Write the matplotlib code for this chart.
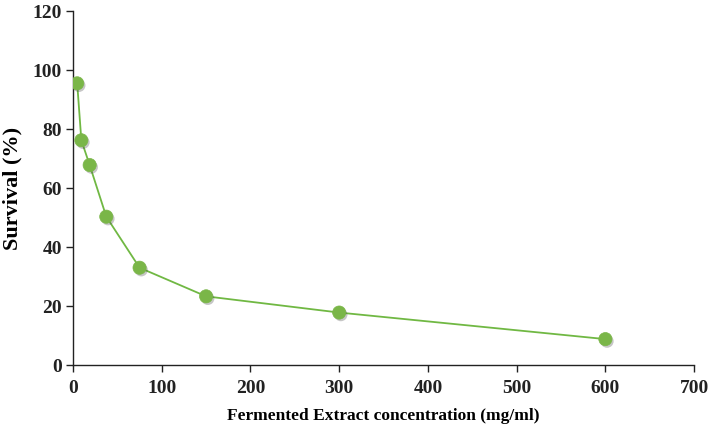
import matplotlib
matplotlib.use("Agg")
import matplotlib.pyplot as plt
import matplotlib.patheffects as pe

conc = [4.69, 9.375, 18.75, 37.5, 75, 150, 300, 600]
survival = [95.5, 76.2, 67.8, 50.3, 33.0, 23.3, 17.8, 8.8]
xticks = [0, 100, 200, 300, 400, 500, 600, 700]
yticks = [0, 20, 40, 60, 80, 100, 120]

plt.rcParams['font.family'] = ['Liberation Serif', 'DejaVu Serif']

fig = plt.figure(figsize=(7.09, 4.25), dpi=100)
ax = fig.add_axes([0.103, 0.141, 0.876, 0.833])

ax.plot(conc, survival, color='#70b843', lw=1.3, zorder=2)
ax.plot(conc, survival, ls='none', marker='o', ms=9.5, mfc='#7ab648', mec='#7ab648', mew=0.5,
        zorder=3,
        path_effects=[pe.SimplePatchShadow(offset=(1.2, -1.5), shadow_rgbFace='#444444', alpha=0.3),
                      pe.Normal()])

ax.set_xlim(0, 700)
ax.set_ylim(0, 120)
ax.set_xticks(xticks)
ax.set_yticks(yticks)
for s in ['top', 'right']:
    ax.spines[s].set_visible(False)
for s in ['left', 'bottom']:
    ax.spines[s].set_color('#222222')
    ax.spines[s].set_linewidth(1.0)
ax.tick_params(direction='out', length=5, width=1.0, colors='#222222', labelsize=14)
for lab in ax.get_xticklabels() + ax.get_yticklabels():
    lab.set_fontweight('bold')
ax.tick_params(axis='x', pad=6)
ax.tick_params(axis='y', pad=3)

ax.set_xlabel('Fermented Extract concentration (mg/ml)', fontsize=12.5, fontweight='bold', labelpad=8)
ax.set_ylabel('Survival (%)', fontsize=16, fontweight='bold', labelpad=7)

fig.savefig('out.png', dpi=100)
